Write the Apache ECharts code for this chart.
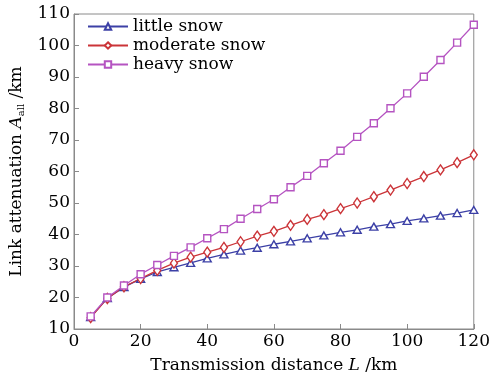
<!DOCTYPE html>
<html>
<head>
<meta charset="utf-8">
<script src="https://cdn.jsdelivr.net/npm/echarts@6/dist/echarts.min.js"></script>
<style>
  html, body { margin: 0; padding: 0; background: #fff; }
  #main { width: 493px; height: 382px; }
</style>
</head>
<body>
<div id="main"></div>
<script>
// 传输距离 (km)
var distance = [5, 10, 15, 20, 25, 30, 35, 40, 45, 50, 55, 60,
  65, 70, 75, 80, 85, 90, 95, 100, 105, 110, 115, 120];

// 三种降雪强度下的链路衰减 (km)
var littleSnow = [13.8, 19.8, 23.3, 25.9, 28.1, 29.6, 31.0, 32.4, 33.7, 34.9, 35.8, 36.9,
  37.8, 38.8, 39.7, 40.7, 41.5, 42.5, 43.3, 44.3, 45.1, 46.0, 46.8, 47.8];
var moderateSnow = [13.6, 19.7, 23.4, 26.0, 28.6, 30.9, 32.8, 34.4, 35.9, 37.7, 39.5, 41.0,
  42.9, 44.8, 46.3, 48.2, 50.0, 52.0, 54.1, 56.2, 58.4, 60.5, 62.8, 65.3];
var heavySnow = [14.0, 20.0, 23.8, 27.4, 30.3, 33.2, 35.9, 38.8, 41.7, 45.0, 48.1, 51.2,
  55.0, 58.6, 62.6, 66.6, 71.0, 75.3, 80.1, 84.8, 90.1, 95.4, 100.9, 106.6];

var seriesNames = ["little snow", "moderate snow", "heavy snow"];

var font = "DejaVu Serif";

function pairs(ys) {
  return distance.map(function (x, i) { return [x, ys[i]]; });
}

function makeSeries(name, ys, color, symbol) {
  return {
    name: name,
    type: "line",
    data: pairs(ys),
    symbol: symbol,
    symbolSize: symbol === "diamond" ? [7, 10] : (symbol === "triangle" ? [8, 7] : 7),
    showSymbol: true,
    lineStyle: { color: color, width: 1.3 },
    itemStyle: { color: "#fff", borderColor: color, borderWidth: 1.4 },
    emphasis: { disabled: true }
  };
}

var myChart = echarts.init(document.getElementById("main"));

var option = {
  animation: false,
  backgroundColor: "#fff",
  grid: {
    left: 74, right: 19, top: 14, bottom: 53,
    show: true, borderColor: "#8a8a8a", borderWidth: 1
  },
  legend: {
    left: 82, top: 12, orient: "vertical",
    itemWidth: 40, itemHeight: 8, itemGap: 0,
    textStyle: { fontFamily: font, fontSize: 17, color: "#000", lineHeight: 19 },
    data: seriesNames
  },
  xAxis: {
    type: "value",
    min: 0, max: 120, interval: 20,
    name: "Transmission distance {i|L} /km",
    nameLocation: "middle",
    nameGap: 28,
    nameTextStyle: {
      fontFamily: font, fontSize: 17, color: "#000",
      rich: { i: { fontFamily: font, fontSize: 17, fontStyle: "italic", color: "#000" } }
    },
    axisLine: { lineStyle: { color: "#8a8a8a" } },
    axisTick: { inside: true, length: 5, lineStyle: { color: "#8a8a8a" } },
    axisLabel: { fontFamily: font, fontSize: 17, color: "#000", margin: 4 },
    splitLine: { show: false }
  },
  yAxis: {
    type: "value",
    min: 10, max: 110, interval: 10,
    name: "Link attenuation {i|A}{s|all} /km",
    nameLocation: "middle",
    nameGap: 48,
    nameTextStyle: {
      fontFamily: font, fontSize: 17, color: "#000",
      rich: {
        i: { fontFamily: font, fontSize: 17, fontStyle: "italic", color: "#000" },
        s: { fontFamily: font, fontSize: 10, color: "#000", verticalAlign: "bottom", padding: [8, 0, 0, 0] }
      }
    },
    axisLine: { lineStyle: { color: "#8a8a8a" } },
    axisTick: { inside: true, length: 5, lineStyle: { color: "#8a8a8a" } },
    axisLabel: { fontFamily: font, fontSize: 17, color: "#000", margin: 4 },
    splitLine: { show: false }
  },
  series: [
    makeSeries(seriesNames[0], littleSnow, "#3c40a6", "triangle"),
    makeSeries(seriesNames[1], moderateSnow, "#cb3438", "diamond"),
    makeSeries(seriesNames[2], heavySnow, "#b554c1", "rect")
  ]
};

myChart.setOption(option);
</script>
</body>
</html>
